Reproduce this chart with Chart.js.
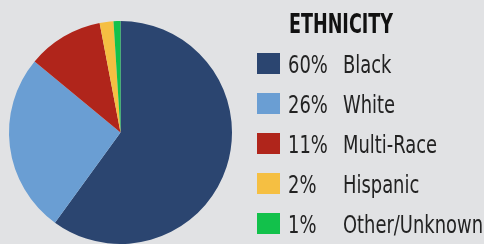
<!doctype html>
<html lang="en">
<head>
<meta charset="utf-8"/>
<title>Ethnicity</title>
<script src="https://cdn.jsdelivr.net/npm/chart.js@4.4.0/dist/chart.umd.min.js"></script>
<style>
  html,body{margin:0;padding:0;background:#e1e2e4}
  .wrap{width:484px;height:244px;position:relative}
</style>
</head>
<body>
<div class="wrap"><canvas id="pie" width="484" height="244"></canvas></div>
<script>
  const labels = ['Black', 'White', 'Multi-Race', 'Hispanic', 'Other/Unknown'];
  const values = [60, 26, 11, 2, 1];
  const colors = ['#2b4570', '#6a9ed3', '#b0251b', '#f5bf42', '#12c14b'];
  const title = 'ETHNICITY';

  const FONT = "'Liberation Sans Narrow','DejaVu Sans Condensed','Liberation Sans',Arial,sans-serif";

  // legend drawn to the right of the pie
  const sideLegend = {
    id: 'sideLegend',
    afterDraw(chart) {
      const ctx = chart.ctx;
      ctx.save();
      ctx.textBaseline = 'alphabetic';
      ctx.textAlign = 'left';

      // title
      ctx.font = 'bold 26px ' + FONT;
      const tw = ctx.measureText(title).width;
      ctx.save();
      ctx.translate(289, 33);
      ctx.scale(104 / tw, 1);
      ctx.fillStyle = '#111';
      ctx.fillText(title, 0, 0);
      ctx.restore();

      ctx.font = '24px ' + FONT;
      const sx = 140 / ctx.measureText('Other/Unknown').width;
      labels.forEach((lab, i) => {
        const top = 53 + i * 40;
        ctx.fillStyle = colors[i];
        ctx.fillRect(257, top, 23, 21);
        ctx.fillStyle = '#222';
        ctx.save();
        ctx.translate(288, top + 20);
        ctx.scale(sx, 1);
        ctx.fillText(values[i] + '%', 0, 0);
        ctx.restore();
        ctx.save();
        ctx.translate(343, top + 20);
        ctx.scale(sx, 1);
        ctx.fillText(lab, 0, 0);
        ctx.restore();
      });
      ctx.restore();
    }
  };

  new Chart(document.getElementById('pie'), {
    type: 'pie',
    data: { labels, datasets: [{ data: values, backgroundColor: colors, borderWidth: 0 }] },
    options: {
      responsive: false,
      animation: false,
      layout: { padding: { left: 8, right: 251, top: 21, bottom: 0 } },
      plugins: { legend: { display: false }, tooltip: { enabled: false } }
    },
    plugins: [sideLegend]
  });
</script>
</body>
</html>
